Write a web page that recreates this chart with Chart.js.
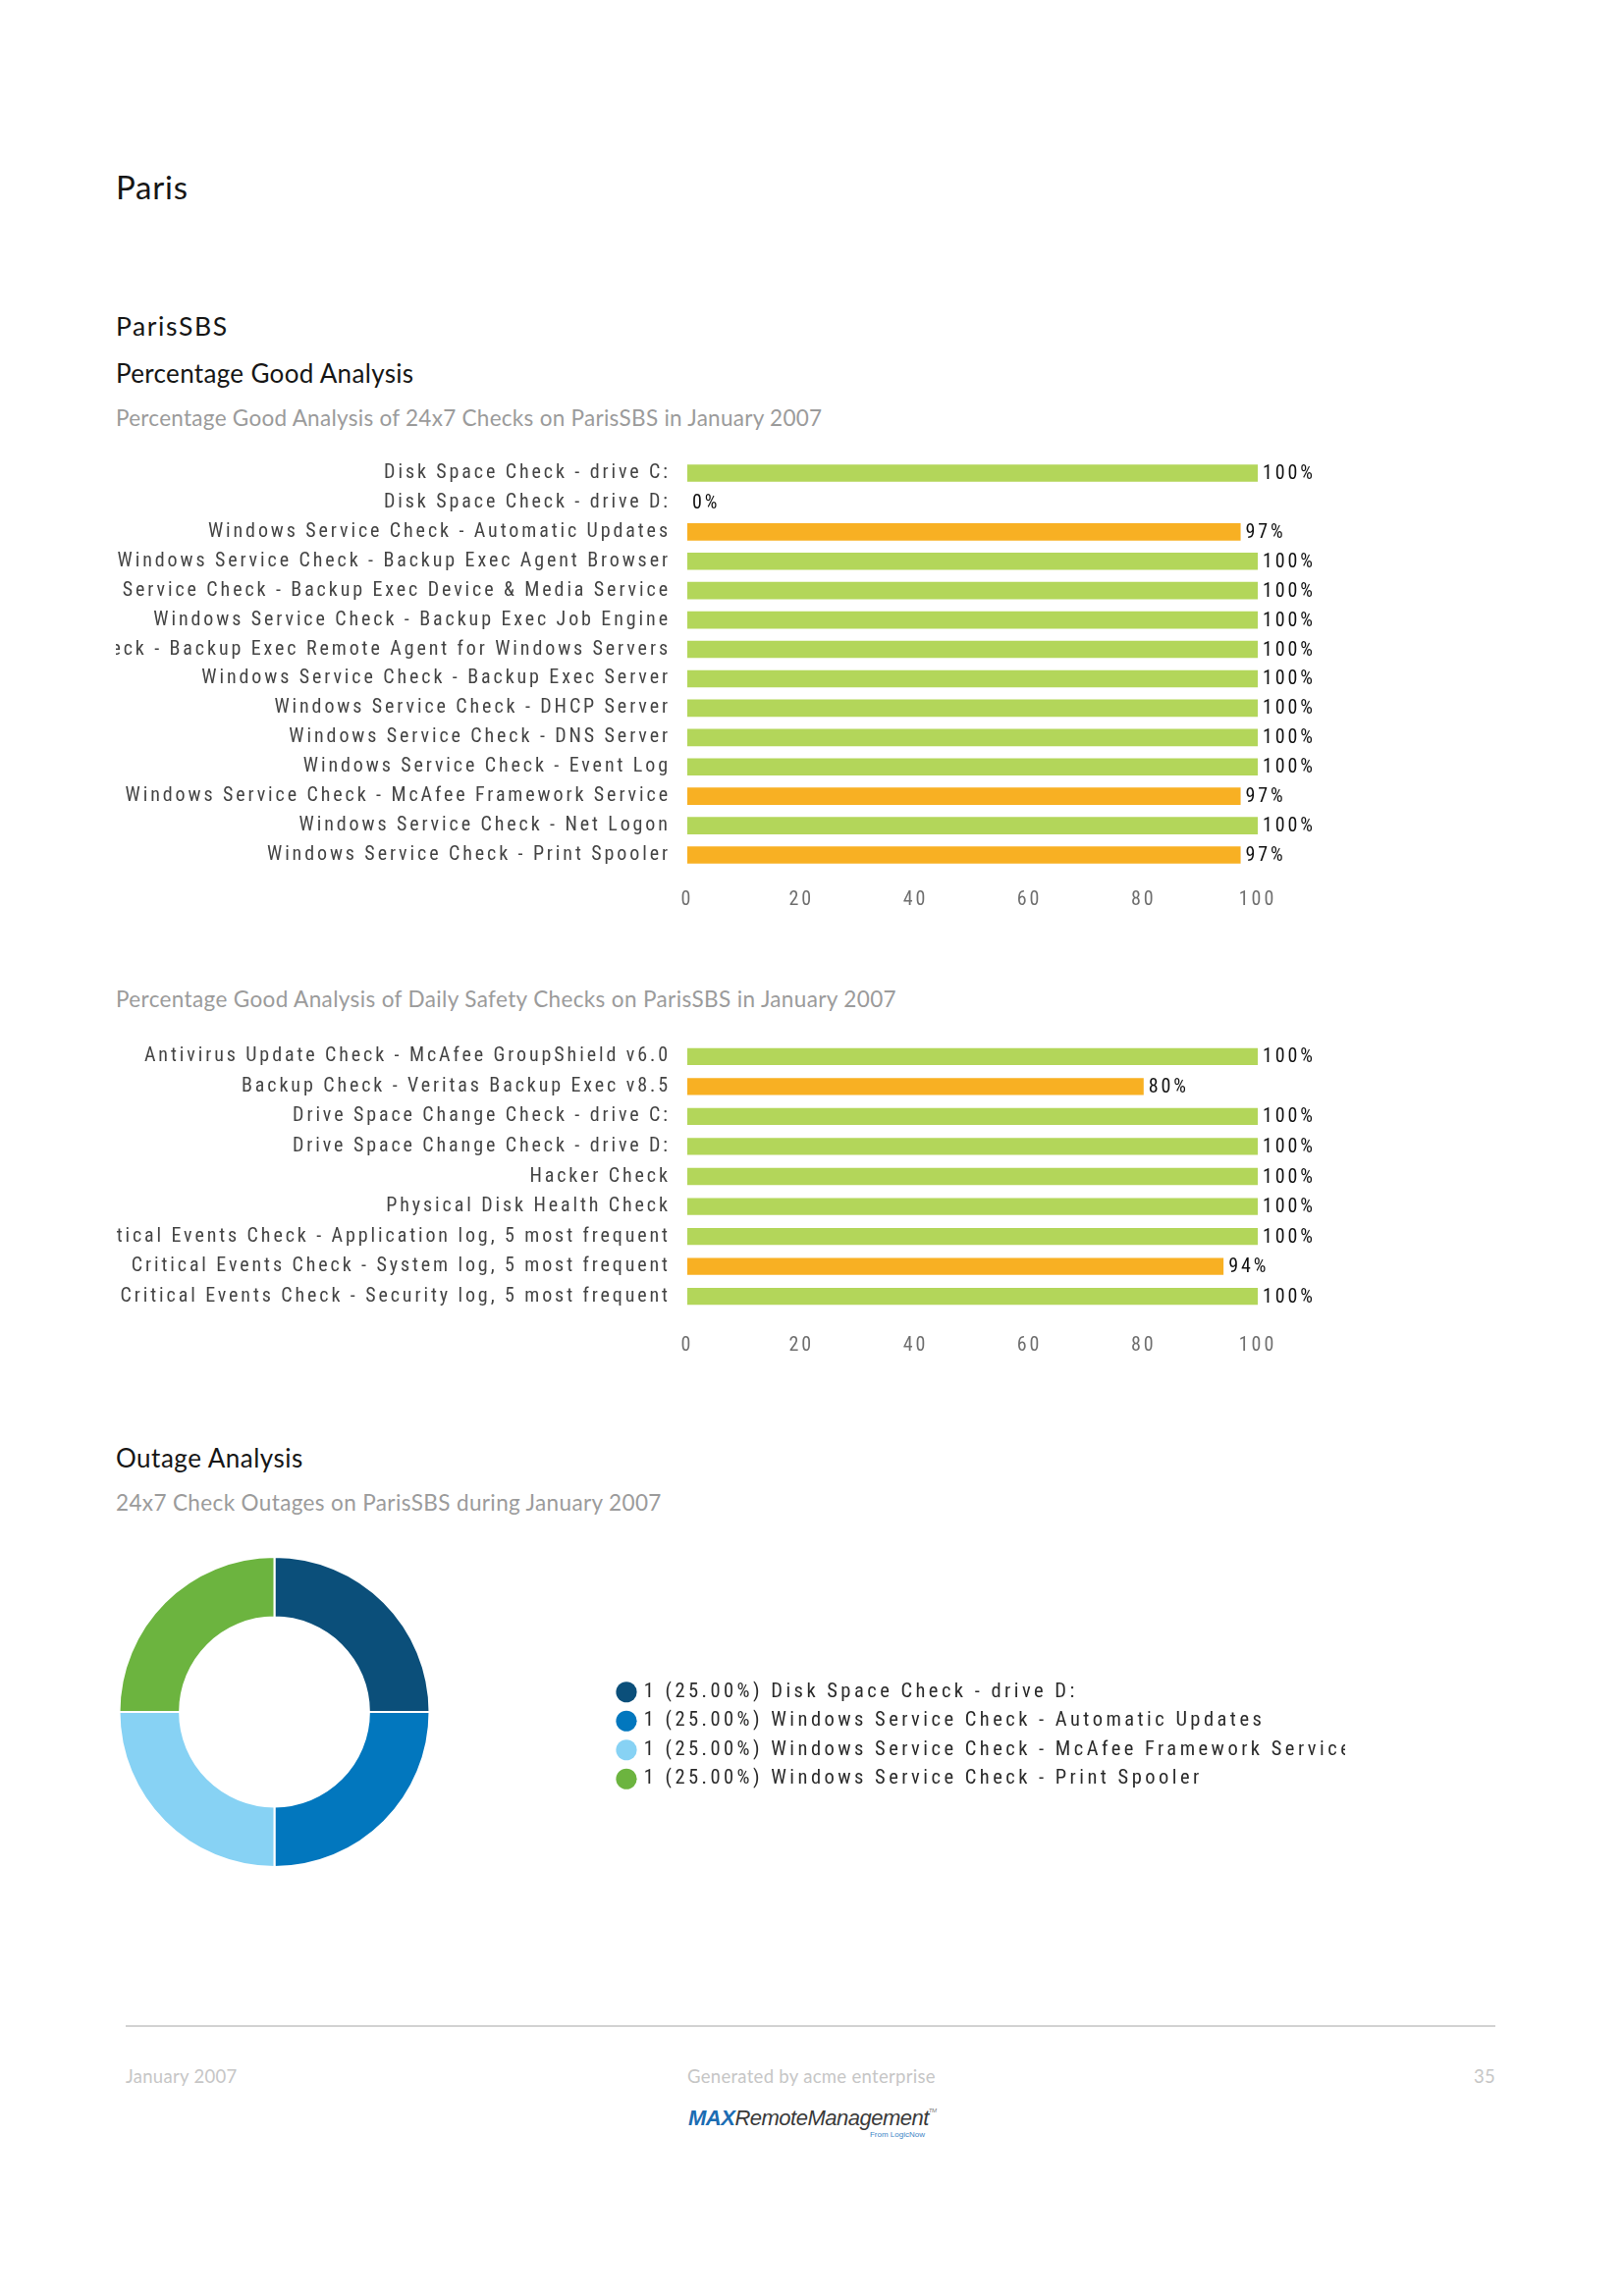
<!DOCTYPE html>
<html><head><meta charset="utf-8">
<script src="https://cdn.jsdelivr.net/npm/chart.js@4.4.1/dist/chart.umd.min.js"></script>
<style>
html,body{margin:0;padding:0;background:#fff;}
body{width:1653px;height:2339px;position:relative;overflow:hidden;font-family:Lato,"Noto Sans",sans-serif;}
.t{position:absolute;white-space:nowrap;line-height:1;}
.h{color:#161616;}
.s{color:#9b9b9b;font-size:22.5px;letter-spacing:0.37px;}
.f{color:#c6c6c6;font-size:18.5px;letter-spacing:0.3px;}
canvas{position:absolute;}
</style></head><body>
<div class="t h" style="left:118px;top:174px;font-size:33px;letter-spacing:0.8px;">Paris</div>
<div class="t h" style="left:118px;top:319px;font-size:26.5px;letter-spacing:1.6px;">ParisSBS</div>
<div class="t h" style="left:118px;top:367px;font-size:26px;letter-spacing:0.33px;">Percentage Good Analysis</div>
<div class="t s" style="left:118px;top:415px;letter-spacing:0.28px;">Percentage Good Analysis of 24x7 Checks on ParisSBS in January 2007</div>
<canvas id="c1" width="1300" height="526" style="left:118px;top:427px;"></canvas>
<div class="t s" style="left:118px;top:1007px;">Percentage Good Analysis of Daily Safety Checks on ParisSBS in January 2007</div>
<canvas id="c2" width="1300" height="379" style="left:118px;top:1021px;"></canvas>
<div class="t h" style="left:118px;top:1472px;font-size:26px;letter-spacing:0.5px;">Outage Analysis</div>
<div class="t s" style="left:118px;top:1520px;">24x7 Check Outages on ParisSBS during January 2007</div>
<canvas id="c3" width="1252" height="340" style="left:118px;top:1574px;"></canvas>
<div style="position:absolute;left:128px;top:2063px;width:1395px;height:2px;background:#d2d2d2;"></div>
<div class="t f" style="left:128px;top:2106px;">January 2007</div>
<div class="t f" style="left:700px;top:2106px;">Generated by acme enterprise</div>
<div class="t f" style="left:1423px;width:100px;text-align:right;top:2106px;">35</div>
<div class="t" style="left:701px;top:2147px;font-family:'Liberation Sans',Arial,sans-serif;font-style:italic;font-size:22px;letter-spacing:-0.5px;"><span style="color:#1c6db3;font-weight:bold;">MAX</span><span style="color:#3a3a3a;">RemoteManagement</span><span style="color:#777;font-size:6px;vertical-align:top;">TM</span></div>
<div class="t" style="left:880px;top:2171px;width:62px;text-align:right;font-family:'Liberation Sans',Arial,sans-serif;font-size:8px;color:#3f86c6;">From LogicNow</div>
<script>
// ---------- data ----------
const checks247 = [
  'Disk Space Check - drive C:',
  'Disk Space Check - drive D:',
  'Windows Service Check - Automatic Updates',
  'Windows Service Check - Backup Exec Agent Browser',
  'Windows Service Check - Backup Exec Device & Media Service',
  'Windows Service Check - Backup Exec Job Engine',
  'Windows Service Check - Backup Exec Remote Agent for Windows Servers',
  'Windows Service Check - Backup Exec Server',
  'Windows Service Check - DHCP Server',
  'Windows Service Check - DNS Server',
  'Windows Service Check - Event Log',
  'Windows Service Check - McAfee Framework Service',
  'Windows Service Check - Net Logon',
  'Windows Service Check - Print Spooler'
];
const good247 = [100, 0, 97, 100, 100, 100, 100, 100, 100, 100, 100, 97, 100, 97];

const checksDaily = [
  'Antivirus Update Check - McAfee GroupShield v6.0',
  'Backup Check - Veritas Backup Exec v8.5',
  'Drive Space Change Check - drive C:',
  'Drive Space Change Check - drive D:',
  'Hacker Check',
  'Physical Disk Health Check',
  'Critical Events Check - Application log, 5 most frequent',
  'Critical Events Check - System log, 5 most frequent',
  'Critical Events Check - Security log, 5 most frequent'
];
const goodDaily = [100, 80, 100, 100, 100, 100, 100, 94, 100];

const xTicks = [0, 20, 40, 60, 80, 100];

const outageChecks = [
  'Disk Space Check - drive D:',
  'Windows Service Check - Automatic Updates',
  'Windows Service Check - McAfee Framework Service',
  'Windows Service Check - Print Spooler'
];
const outageCounts = [1, 1, 1, 1];

// ---------- style ----------
const GREEN = '#b3d65a', ORANGE = '#f8b023';
const PIE_COLORS = ['#0b4f7a', '#0277be', '#87d2f4', '#6cb43f'];
const LFONT = '"Liberation Sans Narrow", "Roboto Condensed", Roboto, sans-serif';
const FS = 20;
const LEG_FS = 20.5;

// letter spacing calibrated so a known label spans the reference width
const mc = document.createElement('canvas').getContext('2d');
mc.font = FS + 'px ' + LFONT;
const probe = 'Windows Service Check - Automatic Updates';
const LS = Math.max(0, (471 - mc.measureText(probe).width) / probe.length);
mc.font = LEG_FS + 'px ' + LFONT;
const probe2 = '1 (25.00%) Disk Space Check - drive D:';
const LS2 = Math.max(0, (442 - mc.measureText(probe2).width) / probe2.length);

Chart.defaults.font.family = LFONT;
Chart.defaults.font.size = FS;
Chart.defaults.animation = false;
Chart.defaults.responsive = false;
Chart.defaults.devicePixelRatio = 1;

function spacingPlugin(ls) {
  return {
    id: 'spacing',
    beforeLayout(c) { c.ctx.letterSpacing = ls + 'px'; },
    beforeDraw(c) { c.ctx.letterSpacing = ls + 'px'; }
  };
}

const valueLabels = {
  id: 'valueLabels',
  afterDatasetsDraw(c) {
    const ctx = c.ctx;
    const meta = c.getDatasetMeta(0);
    const data = c.data.datasets[0].data;
    ctx.save();
    ctx.letterSpacing = LS + 'px';
    ctx.font = FS + 'px ' + LFONT;
    ctx.fillStyle = '#111';
    ctx.textAlign = 'left';
    ctx.textBaseline = 'middle';
    meta.data.forEach((bar, i) => {
      ctx.fillText(data[i] + '%', bar.x + 5, bar.y + 1);
    });
    ctx.restore();
  }
};

function barChart(id, labels, values, pad, tickPad, catPct) {
  return new Chart(document.getElementById(id), {
    type: 'bar',
    data: {
      labels: labels,
      datasets: [{
        data: values,
        backgroundColor: values.map(v => v >= 100 ? GREEN : ORANGE),
        borderWidth: 0,
        barPercentage: 1,
        categoryPercentage: catPct
      }]
    },
    options: {
      indexAxis: 'y',
      layout: { padding: pad },
      plugins: { legend: { display: false }, tooltip: { enabled: false } },
      scales: {
        x: {
          min: xTicks[0], max: xTicks[xTicks.length - 1],
          grid: { display: false, drawTicks: false },
          border: { display: false },
          ticks: { stepSize: xTicks[1] - xTicks[0], color: '#6f6f6f', padding: tickPad },
          afterFit(s) { s.height = 50; }
        },
        y: {
          grid: { display: false, drawTicks: false },
          border: { display: false },
          ticks: { color: '#444', padding: 20 - LS, autoSkip: false },
          afterFit(s) { s.width = 582; }
        }
      }
    },
    plugins: [spacingPlugin(LS), valueLabels]
  });
}

barChart('c1', checks247, good247, { top: 40, bottom: 17, left: 0, right: 137 }, 19, 0.59);
barChart('c2', checksDaily, goodDaily, { top: 40, bottom: 14, left: 0, right: 137 }, 23, 0.566);

// ---------- doughnut ----------
const total = outageCounts.reduce((a, b) => a + b, 0);
const outageLabels = outageChecks.map((n, i) =>
  outageCounts[i] + ' (' + (outageCounts[i] / total * 100).toFixed(2) + '%) ' + n);

const legendPlace = {
  id: 'legendPlace',
  beforeLayout(c) {
    const lg = c.legend;
    if (lg && !lg._patched) {
      const f = lg.fit;
      lg.fit = function () { f.call(this); this.width = 1252 - 323; };
      lg._patched = true;
    }
  },
  afterLayout(c) {
    const lg = c.legend;
    const w = lg.right - lg.left;
    lg.left = 503.5; lg.right = lg.left + w;
    lg.top += 24; lg.bottom += 24;
  }
};

new Chart(document.getElementById('c3'), {
  type: 'doughnut',
  data: {
    labels: outageLabels,
    datasets: [{
      data: outageCounts,
      backgroundColor: PIE_COLORS,
      borderColor: '#ffffff',
      borderWidth: 2
    }]
  },
  options: {
    radius: 158,
    cutout: '61%',
    layout: { padding: 0 },
    plugins: {
      tooltip: { enabled: false },
      legend: {
        position: 'right',
        labels: {
          usePointStyle: true,
          pointStyle: 'circle',
          boxWidth: 15, boxHeight: 15,
          padding: 9,
          color: '#2b2b2b',
          font: { size: LEG_FS, family: LFONT },
          generateLabels(chart) {
            return Chart.overrides.doughnut.plugins.legend.labels.generateLabels(chart)
              .map(l => Object.assign(l, { lineWidth: 0, strokeStyle: 'rgba(0,0,0,0)' }));
          }
        }
      }
    }
  },
  plugins: [spacingPlugin(LS2), legendPlace]
});
</script>
</body></html>
